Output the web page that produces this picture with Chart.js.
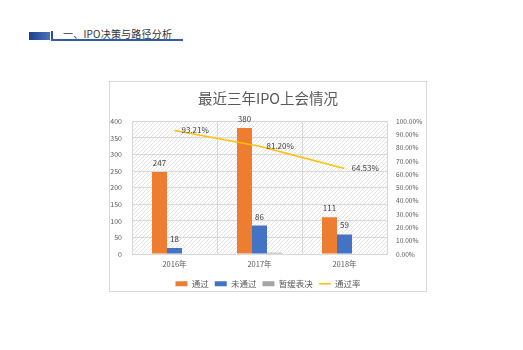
<!DOCTYPE html>
<html>
<head>
<meta charset="utf-8">
<script src="https://cdn.jsdelivr.net/npm/chart.js@4.4.1/dist/chart.umd.min.js"></script>
<style>
  body { margin: 0; background: #fff; width: 523px; height: 350px; position: relative; overflow: hidden; font-family: 'Noto Sans CJK SC', sans-serif; }
  .hd-block { position: absolute; left: 29px; top: 32px; width: 21px; height: 8px; background: linear-gradient(90deg, #1c3f8a, #4a74c0); }
  .hd-bar { position: absolute; left: 51px; top: 31px; width: 2px; height: 9px; background: #2a4f9c; }
  .hd-line { position: absolute; left: 51px; top: 39px; width: 132px; height: 1.5px; background: #2f5aa6; }
  .hd-text { position: absolute; left: 63px; top: 26px; font-size: 10px; color: #333; letter-spacing: 0.2px; }
  #wrap { position: absolute; left: 110px; top: 82px; width: 316px; height: 216px; }
  #wrap canvas { display: block; }
  #frame { position: absolute; left: 109px; top: 81px; width: 318px; height: 211px; box-sizing: border-box; border: 1px solid #d9d9d9; pointer-events: none; }
</style>
</head>
<body>
<div class="hd-block"></div>
<div class="hd-bar"></div>
<div class="hd-line"></div>
<div class="hd-text">一、IPO决策与路径分析</div>
<div id="wrap"><canvas id="ipoChart" width="316" height="216"></canvas></div>
<div id="frame"></div>
<script>
// chart data
const years = ['2016年', '2017年', '2018年'];
const passed = [247, 380, 111];
const rejected = [18, 86, 59];
const deferred = [0, 4, 0];
const passRate = [93.21, 81.20, 64.53];
const countTicks = [0, 50, 100, 150, 200, 250, 300, 350, 400];

const FONT = "'Noto Sans CJK SC', sans-serif";

// light diagonal hatch for the plot area
function makeHatch(ctx) {
    const c = document.createElement('canvas');
    c.width = 4; c.height = 4;
    const p = c.getContext('2d');
    p.fillStyle = '#ffffff';
    p.fillRect(0, 0, 4, 4);
    p.strokeStyle = '#e4e4e4';
    p.lineWidth = 1;
    p.beginPath();
    p.moveTo(0, 4); p.lineTo(4, 0);
    p.moveTo(-1, 1); p.lineTo(1, -1);
    p.moveTo(3, 5); p.lineTo(5, 3);
    p.stroke();
    return ctx.createPattern(c, 'repeat');
}

const hatchBg = {
    id: 'hatchBg',
    beforeDraw(chart) {
        const { ctx, chartArea: a } = chart;
        ctx.save();
        ctx.fillStyle = makeHatch(ctx);
        ctx.fillRect(a.left, a.top, a.right - a.left, a.bottom - a.top);
        ctx.restore();
    }
};

// value labels above bars and beside the line points
const valueLabels = {
    id: 'valueLabels',
    afterDatasetsDraw(chart) {
        const ctx = chart.ctx;
        ctx.save();
        ctx.font = '8px ' + FONT;
        ctx.fillStyle = '#404040';
        [0, 1].forEach(di => {
            const meta = chart.getDatasetMeta(di);
            meta.data.forEach((bar, i) => {
                ctx.textAlign = 'center';
                ctx.textBaseline = 'middle';
                ctx.fillText(chart.data.datasets[di].data[i], bar.x, bar.y - 9);
            });
        });
        const lineMeta = chart.getDatasetMeta(3);
        lineMeta.data.forEach((pt, i) => {
            ctx.textAlign = 'left';
            ctx.textBaseline = 'middle';
            ctx.fillText(passRate[i].toFixed(2) + '%', pt.x + 7, pt.y);
        });
        ctx.restore();
    }
};

const ctx = document.getElementById('ipoChart').getContext('2d');
new Chart(ctx, {
    data: {
        labels: years,
        datasets: [
            { type: 'bar', label: '通过', data: passed, backgroundColor: '#ED7D31', pointStyle: 'rect', yAxisID: 'y', order: 2 },
            { type: 'bar', label: '未通过', data: rejected, backgroundColor: '#4472C4', pointStyle: 'rect', yAxisID: 'y', order: 2 },
            { type: 'bar', label: '暂缓表决', data: deferred, backgroundColor: '#A5A5A5', pointStyle: 'rect', yAxisID: 'y', order: 2 },
            { type: 'line', label: '通过率', data: passRate, borderColor: '#FFC000', backgroundColor: '#FFC000', borderWidth: 1.5, pointRadius: 0, pointStyle: 'line', yAxisID: 'y1', order: 1 }
        ]
    },
    options: {
        responsive: false,
        animation: false,
        layout: { padding: { left: 0, right: 0, top: 0, bottom: 0 } },
        datasets: {
            bar: { categoryPercentage: 0.53, barPercentage: 1 }
        },
        plugins: {
            title: {
                display: true,
                text: '最近三年IPO上会情况',
                color: '#595959',
                font: { family: FONT, size: 14.5, weight: 'normal' },
                padding: { top: 8, bottom: 14 }
            },
            legend: {
                position: 'bottom',
                labels: {
                    usePointStyle: true,
                    pointStyleWidth: 12,
                    boxWidth: 12,
                    boxHeight: 5,
                    padding: 6,
                    color: '#595959',
                    font: { family: FONT, size: 8.5 },
                    sort: (a, b) => a.datasetIndex - b.datasetIndex
                }
            },
            tooltip: { enabled: false }
        },
        scales: {
            x: {
                offset: true,
                grid: { offset: true, color: '#d9d9d9', drawTicks: false },
                border: { color: '#d9d9d9' },
                ticks: { color: '#595959', padding: 6, font: { family: FONT, size: 7.5 } },
                afterFit(scale) { scale.height = 19.5; }
            },
            y: {
                position: 'left',
                min: 0,
                max: 400,
                afterBuildTicks(scale) { scale.ticks = countTicks.map(v => ({ value: v })); },
                grid: { color: '#d9d9d9', drawTicks: false },
                border: { display: false },
                ticks: { color: '#595959', padding: 10, font: { family: FONT, size: 7 } },
                afterFit(scale) { scale.width = 22; }
            },
            y1: {
                position: 'right',
                min: 0,
                max: 100,
                grid: { drawOnChartArea: false, drawTicks: false },
                border: { display: false },
                ticks: {
                    stepSize: 10,
                    color: '#595959',
                    padding: 9,
                    font: { family: FONT, size: 6.6 },
                    callback: v => v.toFixed(2) + '%'
                },
                afterFit(scale) { scale.width = 39; }
            }
        }
    },
    plugins: [hatchBg, valueLabels]
});
</script>
</body>
</html>
